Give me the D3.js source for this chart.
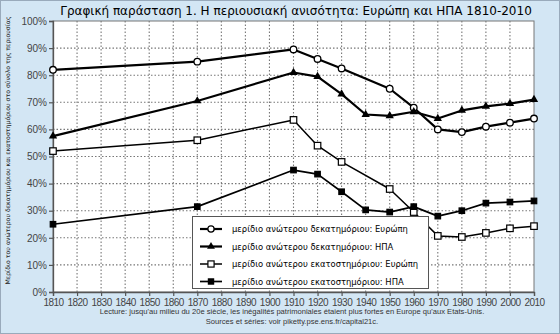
<!DOCTYPE html>
<html lang="el">
<head>
<meta charset="UTF-8">
<title>Η περιουσιακή ανισότητα: Ευρώπη και ΗΠΑ 1810-2010</title>
<script src="https://d3js.org/d3.v7.min.js"></script>
<style>
	html, body { margin: 0; padding: 0; background: #fff; }
	svg { display: block; }
	.tick text { font-family: Arial, "Liberation Sans", sans-serif; font-size: 10px; fill: #444; }
	.xaxis .tick text { letter-spacing: -0.5px; }
	.hand { font-family: "DejaVu Sans", sans-serif; }
</style>
</head>
<body>
<div id="chart"></div>
<script>
	const W = 560, H = 334;
	const margin = { top: 21, right: 26, bottom: 42, left: 53 };

	const xTicks = d3.range(1810, 2011, 10);
	const yTicks = [0, 10, 20, 30, 40, 50, 60, 70, 80, 90, 100];

	// top decile, Europe
	const euDecYears = [1810, 1870, 1910, 1920, 1930, 1950, 1960, 1970, 1980, 1990, 2000, 2010];
	const euDecVals = [82, 85, 89.5, 86, 82.5, 75, 68, 60, 59, 61, 62.5, 64];
	// top decile, USA
	const usDecYears = [1810, 1870, 1910, 1920, 1930, 1940, 1950, 1960, 1970, 1980, 1990, 2000, 2010];
	const usDecVals = [57.5, 70.5, 81, 79.5, 73, 65.5, 65, 66.5, 64, 67, 68.5, 69.5, 71];
	// top centile, Europe
	const euCenYears = [1810, 1870, 1910, 1920, 1930, 1950, 1960, 1970, 1980, 1990, 2000, 2010];
	const euCenVals = [52, 56, 63.5, 54, 48, 38, 29.5, 20.7, 20.3, 21.8, 23.5, 24.3];
	// top centile, USA
	const usCenYears = [1810, 1870, 1910, 1920, 1930, 1940, 1950, 1960, 1970, 1980, 1990, 2000, 2010];
	const usCenVals = [25, 31.5, 45, 43.5, 37, 30.3, 29.5, 31.5, 28, 30, 32.8, 33.2, 33.6];

	const legendLabels = [
		"μερίδιο ανώτερου δεκατημόριου: Ευρώπη",
		"μερίδιο ανώτερου δεκατημόριου: ΗΠΑ",
		"μερίδιο ανώτερου εκατοστημόριου: Ευρώπη",
		"μερίδιο ανώτερου εκατοστημόριου: ΗΠΑ"
	];

	const series = [
		{ years: euDecYears, vals: euDecVals, marker: "circle", fill: "#fff", width: 2.2 },
		{ years: usDecYears, vals: usDecVals, marker: "triangle", fill: "#000", width: 2.2 },
		{ years: euCenYears, vals: euCenVals, marker: "square", fill: "#fff", width: 1.5 },
		{ years: usCenYears, vals: usCenVals, marker: "square", fill: "#000", width: 1.7 }
	];

	const svg = d3.create("svg").attr("width", W).attr("height", H);

	// background panel
	svg.append("rect").attr("x", 0.5).attr("y", 0.5).attr("width", W - 1).attr("height", H - 1)
		.attr("fill", "#d3e6f4").attr("stroke", "#9ab").attr("stroke-width", 1);

	const x = d3.scaleLinear().domain([1810, 2010]).range([margin.left, W - margin.right]);
	const y = d3.scaleLinear().domain([0, 100]).range([H - margin.bottom, margin.top]);

	// plot area
	svg.append("rect")
		.attr("x", x(1810)).attr("y", y(100))
		.attr("width", x(2010) - x(1810)).attr("height", y(0) - y(100))
		.attr("fill", "#fff").attr("stroke", "#777").attr("stroke-width", 1);

	// grid
	const grid = svg.append("g").attr("stroke", "#777").attr("stroke-width", 1.1).attr("stroke-dasharray", "1.5,2");
	grid.selectAll(".gx").data(xTicks.slice(1, -1)).join("line")
		.attr("x1", d => x(d)).attr("x2", d => x(d))
		.attr("y1", y(100)).attr("y2", y(0));
	grid.selectAll(".gy").data(yTicks.slice(1, -1)).join("line")
		.attr("x1", x(1810)).attr("x2", x(2010))
		.attr("y1", d => y(d)).attr("y2", d => y(d));

	// axes
	const xAxis = svg.append("g").attr("class", "xaxis")
		.attr("transform", `translate(0,${y(0)})`)
		.call(d3.axisBottom(x).tickValues(xTicks).tickFormat(d3.format("d")).tickSize(4).tickPadding(3));
	const yAxis = svg.append("g")
		.attr("transform", `translate(${x(1810)},0)`)
		.call(d3.axisLeft(y).tickValues(yTicks).tickFormat(d => d + "%").tickSize(4).tickPadding(2));
	[xAxis, yAxis].forEach(a => {
		a.select(".domain").attr("stroke", "#555").attr("stroke-width", 1.3);
		a.selectAll(".tick line").attr("stroke", "#555").attr("stroke-width", 1.2);
	});

	const line = d3.line().x(d => x(d[0])).y(d => y(d[1]));
	const tri = d3.symbol().type(d3.symbolTriangle).size(30);

	function marker(g, s, cx, cy, scale) {
		if (s.marker === "circle") {
			g.append("circle").attr("cx", cx).attr("cy", cy).attr("r", 3.3 * scale)
				.attr("fill", s.fill).attr("stroke", "#000").attr("stroke-width", 1.3);
		} else if (s.marker === "triangle") {
			g.append("path").attr("d", tri).attr("transform", `translate(${cx},${cy}) scale(${scale})`)
				.attr("fill", "#000");
		} else {
			const sz = (s.fill === "#000" ? 5.5 : 6.5) * scale;
			g.append("rect").attr("x", cx - sz / 2).attr("y", cy - sz / 2)
				.attr("width", sz).attr("height", sz)
				.attr("fill", s.fill).attr("stroke", "#000").attr("stroke-width", 1.2);
		}
	}

	series.forEach(s => {
		const pts = s.years.map((yr, i) => [yr, s.vals[i]]);
		const g = svg.append("g");
		g.append("path").attr("d", line(pts)).attr("fill", "none")
			.attr("stroke", "#000").attr("stroke-width", s.width).attr("stroke-linejoin", "round");
		pts.forEach(p => marker(g, s, x(p[0]), y(p[1]), 1));
	});

	// legend
	const lg = svg.append("g");
	lg.append("rect").attr("x", 192.5).attr("y", 216.5).attr("width", 236).attr("height", 72)
		.attr("fill", "#fff").attr("stroke", "#555").attr("stroke-width", 1);
	series.forEach((s, i) => {
		const ly = 229 + i * 17.5;
		lg.append("line").attr("x1", 200).attr("x2", 222).attr("y1", ly).attr("y2", ly)
			.attr("stroke", "#000").attr("stroke-width", s.width);
		marker(lg, s, 211, ly, 0.95);
		lg.append("text").attr("class", "hand").attr("x", 232).attr("y", ly + 3)
			.attr("font-size", 8.4).attr("fill", "#000").text(legendLabels[i]);
	});

	// title
	svg.append("text").attr("class", "hand").attr("x", 296).attr("y", 15)
		.attr("text-anchor", "middle").attr("font-size", 12).attr("fill", "#000")
		.text("Γραφική παράσταση 1. Η περιουσιακή ανισότητα: Ευρώπη και ΗΠΑ 1810-2010");

	// y title
	svg.append("text").attr("class", "hand")
		.attr("transform", `translate(10,${(y(0) + y(100)) / 2 - 6}) rotate(-90)`)
		.attr("text-anchor", "middle").attr("font-size", 6.2).attr("fill", "#222")
		.text("Μερίδιο του ανώτερου δεκατημόριου και εκατοστημόριου στο σύνολο της περιουσίας");

	// footnotes
	svg.append("text").attr("x", 292).attr("y", 314).attr("text-anchor", "middle")
		.attr("font-family", "Arial, 'Liberation Sans', sans-serif").attr("font-size", 7.6).attr("fill", "#333")
		.text("Lecture: jusqu'au milieu du 20e siècle, les inégalités patrimoniales étaient plus fortes en Europe qu'aux Etats-Unis.");
	svg.append("text").attr("x", 292).attr("y", 324).attr("text-anchor", "middle")
		.attr("font-family", "Arial, 'Liberation Sans', sans-serif").attr("font-size", 7.6).attr("fill", "#333")
		.text("Sources et séries: voir piketty.pse.ens.fr/capital21c.");

	document.getElementById("chart").append(svg.node());
</script>
</body>
</html>
